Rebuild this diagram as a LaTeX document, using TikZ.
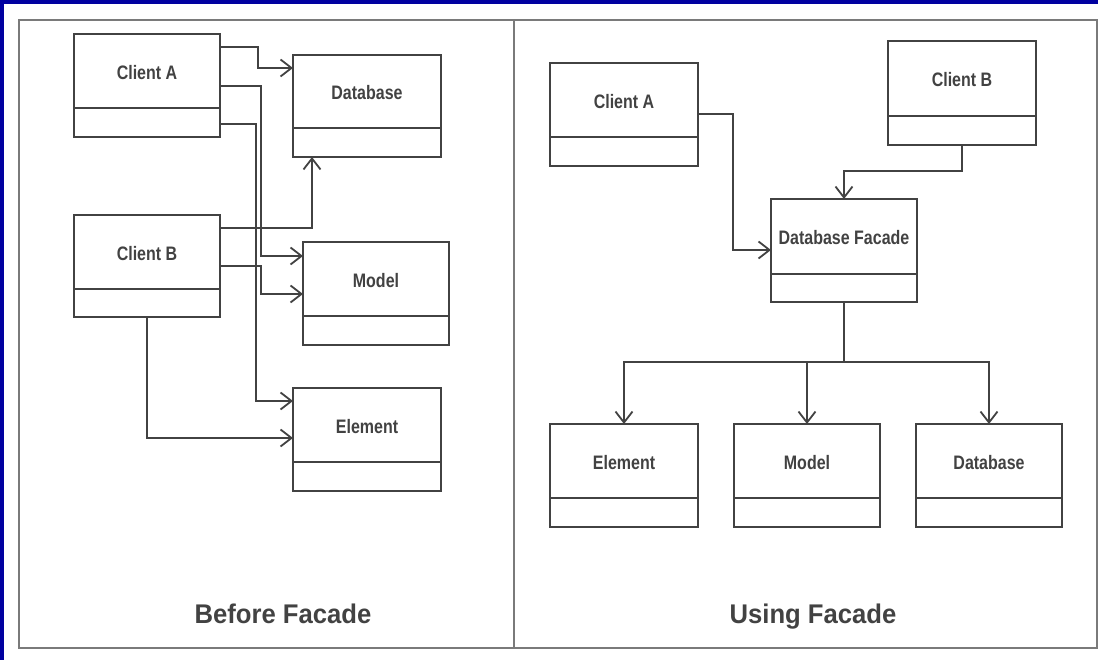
\documentclass[tikz,border=0pt]{standalone}
\usepackage{fontspec}
\setmainfont{Liberation Sans}
\newfontfamily\labfont{Liberation Sans}[FakeStretch=0.82]
\newfontfamily\headfont{Liberation Sans}[FakeStretch=0.95]
\usetikzlibrary{arrows.meta}
\definecolor{ink}{HTML}{424242}
\definecolor{frameclr}{HTML}{7A7A7A}
\definecolor{edgeblue}{HTML}{0000A0}
\tikzset{
  clsbox/.style={draw=ink, line width=1.8pt, rectangle, inner sep=0pt, outer sep=0pt},
  clsline/.style={draw=ink, line width=1.8pt},
  clslabel/.style={text=ink, font=\labfont\bfseries\fontsize{19.5}{22}\selectfont, inner sep=0pt},
  conn/.style={draw=ink, line width=1.8pt, -{Straight Barb[length=11pt, width=17pt, line width=1.8pt]}},
  plainconn/.style={draw=ink, line width=1.8pt},
  heading/.style={text=ink, font=\headfont\bfseries\fontsize{27}{30}\selectfont, inner sep=0pt, anchor=base},
}
% class box: name, x1, y1, x2, y2, divider y, label
\newcommand\umlclass[7]{%
  \node[clsbox, anchor=north west, minimum width={(#4-#2)*1pt}, minimum height={(#5-#3)*1pt}] (#1) at (#2,#3) {};
  \draw[clsline] (#2,#6) -- (#4,#6);
  \node[clslabel] (#1-t) at ({(#2+#4)/2},{(#3+#6)/2+1.5}) {#7};
}
\begin{document}
\begin{tikzpicture}[x=1pt, y=-1pt]
  \useasboundingbox (0,0) rectangle (1098,660);
  \fill[white] (0,0) rectangle (1098,660);
  % blue edge along top and left
  \fill[edgeblue] (0,0) rectangle (1098,4);
  \fill[edgeblue] (0,0) rectangle (4,660);
  % outer frame and panel divider
  \draw[frameclr, line width=1.8pt] (19,20) rectangle (1097,648);
  \draw[frameclr, line width=1.8pt] (514,20) -- (514,648);

  % ---- left panel: before facade ----
  \umlclass{caL}{74}{34}{220}{137}{108}{Client A}
  \umlclass{ldb}{293}{55}{441}{157}{128}{Database}
  \umlclass{cbL}{74}{215}{220}{317}{289}{Client B}
  \umlclass{lmo}{303}{242}{449}{345}{316}{Model}
  \umlclass{lel}{293}{388}{441}{491}{462}{Element}

  \draw[conn] (caL.east|-0,47) -- (258,47) |- (ldb.west|-0,68);
  \draw[conn] (caL.east|-0,86) -- (261,86) |- (lmo.west|-0,256);
  \draw[conn] (caL.east|-0,124) -- (256,124) |- (lel.west|-0,401);
  \draw[conn] (cbL.east|-0,228) -| (312,0 |- ldb.south);
  \draw[conn] (cbL.east|-0,266) -- (261,266) |- (lmo.west|-0,294);
  \draw[conn] (cbL.south) |- (lel.west|-0,438);

  \node[heading] (t1) at (283,623) {Before Facade};

  % ---- right panel: using facade ----
  \umlclass{caR}{550}{63}{698}{166}{137}{Client A}
  \umlclass{cbR}{888}{41}{1036}{145}{116}{Client B}
  \umlclass{fac}{771}{199}{917}{302}{274}{Database Facade}
  \umlclass{rel}{550}{424}{698}{527}{498}{Element}
  \umlclass{rmo}{734}{424}{880}{527}{498}{Model}
  \umlclass{rdb}{916}{424}{1062}{527}{498}{Database}

  \draw[conn] (caR.east|-0,114) -- (733,114) |- (fac.west|-0,250);
  \draw[conn] (cbR.south) |- (fac.north|-0,171) -- (fac.north);
  \draw[plainconn] (fac.south) -- (fac.south|-0,362) coordinate (split);
  \draw[conn] (split) -| (rel.north);
  \draw[conn] (split) -| (rmo.north);
  \draw[conn] (split) -| (rdb.north);

  \node[heading] (t2) at (813,623) {Using Facade};
\end{tikzpicture}
\end{document}
